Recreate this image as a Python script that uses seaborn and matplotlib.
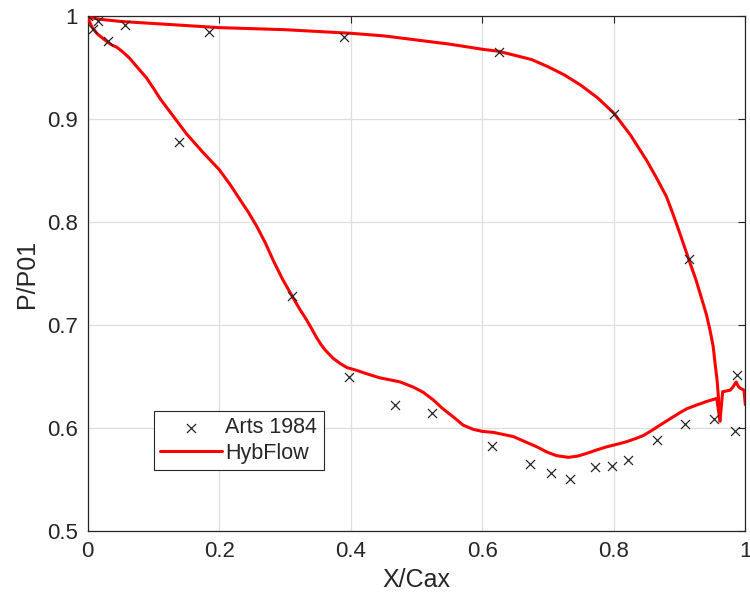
import numpy as np
import pandas as pd
import matplotlib
matplotlib.use("Agg")
import matplotlib.pyplot as plt
import seaborn as sns

# Experimental data (Arts 1984)
exp_x = [0.001, 0.0075, 0.016, 0.030, 0.057, 0.138, 0.185, 0.311, 0.389, 0.398,
         0.467, 0.523, 0.615, 0.625, 0.673, 0.705, 0.734, 0.772, 0.797, 0.800,
         0.821, 0.866, 0.909, 0.914, 0.952, 0.984, 0.987]
exp_y = [1.000, 0.988, 0.995, 0.976, 0.992, 0.878, 0.985, 0.728, 0.980, 0.650,
         0.623, 0.615, 0.583, 0.965, 0.565, 0.557, 0.551, 0.562, 0.563, 0.905,
         0.569, 0.589, 0.604, 0.764, 0.609, 0.597, 0.652]

# HybFlow - suction side (lower curve)
ss_x = [0.0, 0.006, 0.0135, 0.022, 0.030, 0.037, 0.044, 0.054, 0.064, 0.076,
        0.0895, 0.100, 0.110, 0.130, 0.150, 0.175, 0.200, 0.216, 0.2315, 0.245,
        0.257, 0.270, 0.282, 0.296, 0.311, 0.322, 0.333, 0.341, 0.348, 0.355,
        0.361, 0.373, 0.3836, 0.394, 0.410, 0.424, 0.444, 0.460, 0.475, 0.495,
        0.510, 0.5255, 0.540, 0.556, 0.571, 0.586, 0.600, 0.617, 0.632, 0.647,
        0.665, 0.683, 0.698, 0.713, 0.731, 0.745, 0.759, 0.774, 0.789, 0.805,
        0.8196, 0.833, 0.845, 0.858, 0.870, 0.880, 0.890, 0.900, 0.911, 0.926,
        0.941, 0.9565, 0.9615, 0.9655, 0.977, 0.981, 0.986, 0.989, 0.992, 0.998,
        1.0]
ss_y = [0.999, 0.990, 0.9835, 0.979, 0.975, 0.972, 0.970, 0.965, 0.959, 0.950,
        0.940, 0.930, 0.920, 0.903, 0.886, 0.868, 0.851, 0.837, 0.822, 0.809,
        0.796, 0.780, 0.763, 0.745, 0.728, 0.716, 0.705, 0.696, 0.688, 0.681,
        0.676, 0.668, 0.663, 0.659, 0.656, 0.653, 0.649, 0.647, 0.645, 0.640,
        0.635, 0.6275, 0.619, 0.611, 0.603, 0.599, 0.597, 0.596, 0.594, 0.592,
        0.587, 0.582, 0.577, 0.5734, 0.5718, 0.573, 0.5757, 0.579, 0.582, 0.5845,
        0.587, 0.590, 0.593, 0.598, 0.603, 0.607, 0.611, 0.615, 0.619, 0.6226,
        0.626, 0.629, 0.607, 0.6355, 0.637, 0.640, 0.645, 0.641, 0.639, 0.637,
        0.623]

# HybFlow - pressure side (upper curve)
ps_x = [0.0, 0.02, 0.05, 0.10, 0.20, 0.30, 0.40, 0.45, 0.50, 0.55, 0.60, 0.625,
        0.65, 0.675, 0.70, 0.725, 0.75, 0.775, 0.80, 0.825, 0.85, 0.865, 0.88,
        0.89, 0.90, 0.914, 0.925, 0.934, 0.941, 0.946, 0.951, 0.954, 0.957,
        0.959, 0.9615]
ps_y = [0.999, 0.997, 0.995, 0.993, 0.989, 0.987, 0.9835, 0.981, 0.977, 0.973,
        0.968, 0.966, 0.962, 0.958, 0.951, 0.943, 0.933, 0.921, 0.906, 0.885,
        0.860, 0.843, 0.825, 0.808, 0.790, 0.764, 0.744, 0.725, 0.710, 0.696,
        0.680, 0.663, 0.647, 0.631, 0.607]

x_ticks = [0, 0.2, 0.4, 0.6, 0.8, 1.0]
x_tick_labels = ["0", "0.2", "0.4", "0.6", "0.8", "1"]
y_ticks = [0.5, 0.6, 0.7, 0.8, 0.9, 1.0]
y_tick_labels = ["0.5", "0.6", "0.7", "0.8", "0.9", "1"]

sns.set_style("whitegrid")
plt.rcParams["font.family"] = ["Liberation Sans", "DejaVu Sans"]

fig = plt.figure(figsize=(7.5, 6.07), dpi=100)
ax = fig.add_axes([0.11707, 0.12471, 0.8767, 0.84844])

sns.scatterplot(x=exp_x, y=exp_y, marker="x", color="#262626", s=42,
                linewidth=0.9, ax=ax, label="Arts 1984", zorder=4)
sns.lineplot(x=ss_x, y=ss_y, sort=False, estimator=None, color="#ff0000",
             linewidth=2.2, ax=ax, label="HybFlow", zorder=3)
sns.lineplot(x=ps_x, y=ps_y, sort=False, estimator=None, color="#ff0000",
             linewidth=2.2, ax=ax, legend=False, zorder=3)

ax.set_xlim(0, 1)
ax.set_ylim(0.5, 1)
ax.set_xticks(x_ticks)
ax.set_xticklabels(x_tick_labels)
ax.set_yticks(y_ticks)
ax.set_yticklabels(y_tick_labels)

ax.grid(True, color="#dedede", linewidth=0.9)
ax.tick_params(axis="both", which="both", direction="in", length=5, width=0.8,
               color="#262626", labelsize=16, labelcolor="#262626",
               top=True, right=True, pad=7)
for s in ax.spines.values():
    s.set_visible(True)
    s.set_color("#262626")
    s.set_linewidth(0.9)

ax.set_xlabel("X/Cax", fontsize=18, color="#262626", labelpad=4)
ax.set_ylabel("P/P01", fontsize=18, color="#262626", labelpad=6)

leg = ax.legend(loc="upper left", bbox_to_anchor=(0.1007, 0.2336),
                borderaxespad=0, fontsize=15.5, frameon=True, fancybox=False,
                framealpha=1, edgecolor="#262626", handlelength=2.85,
                borderpad=0.3, labelspacing=0.2, handletextpad=0.15)
leg.get_frame().set_linewidth(0.8)

fig.savefig("out.png", dpi=100)
